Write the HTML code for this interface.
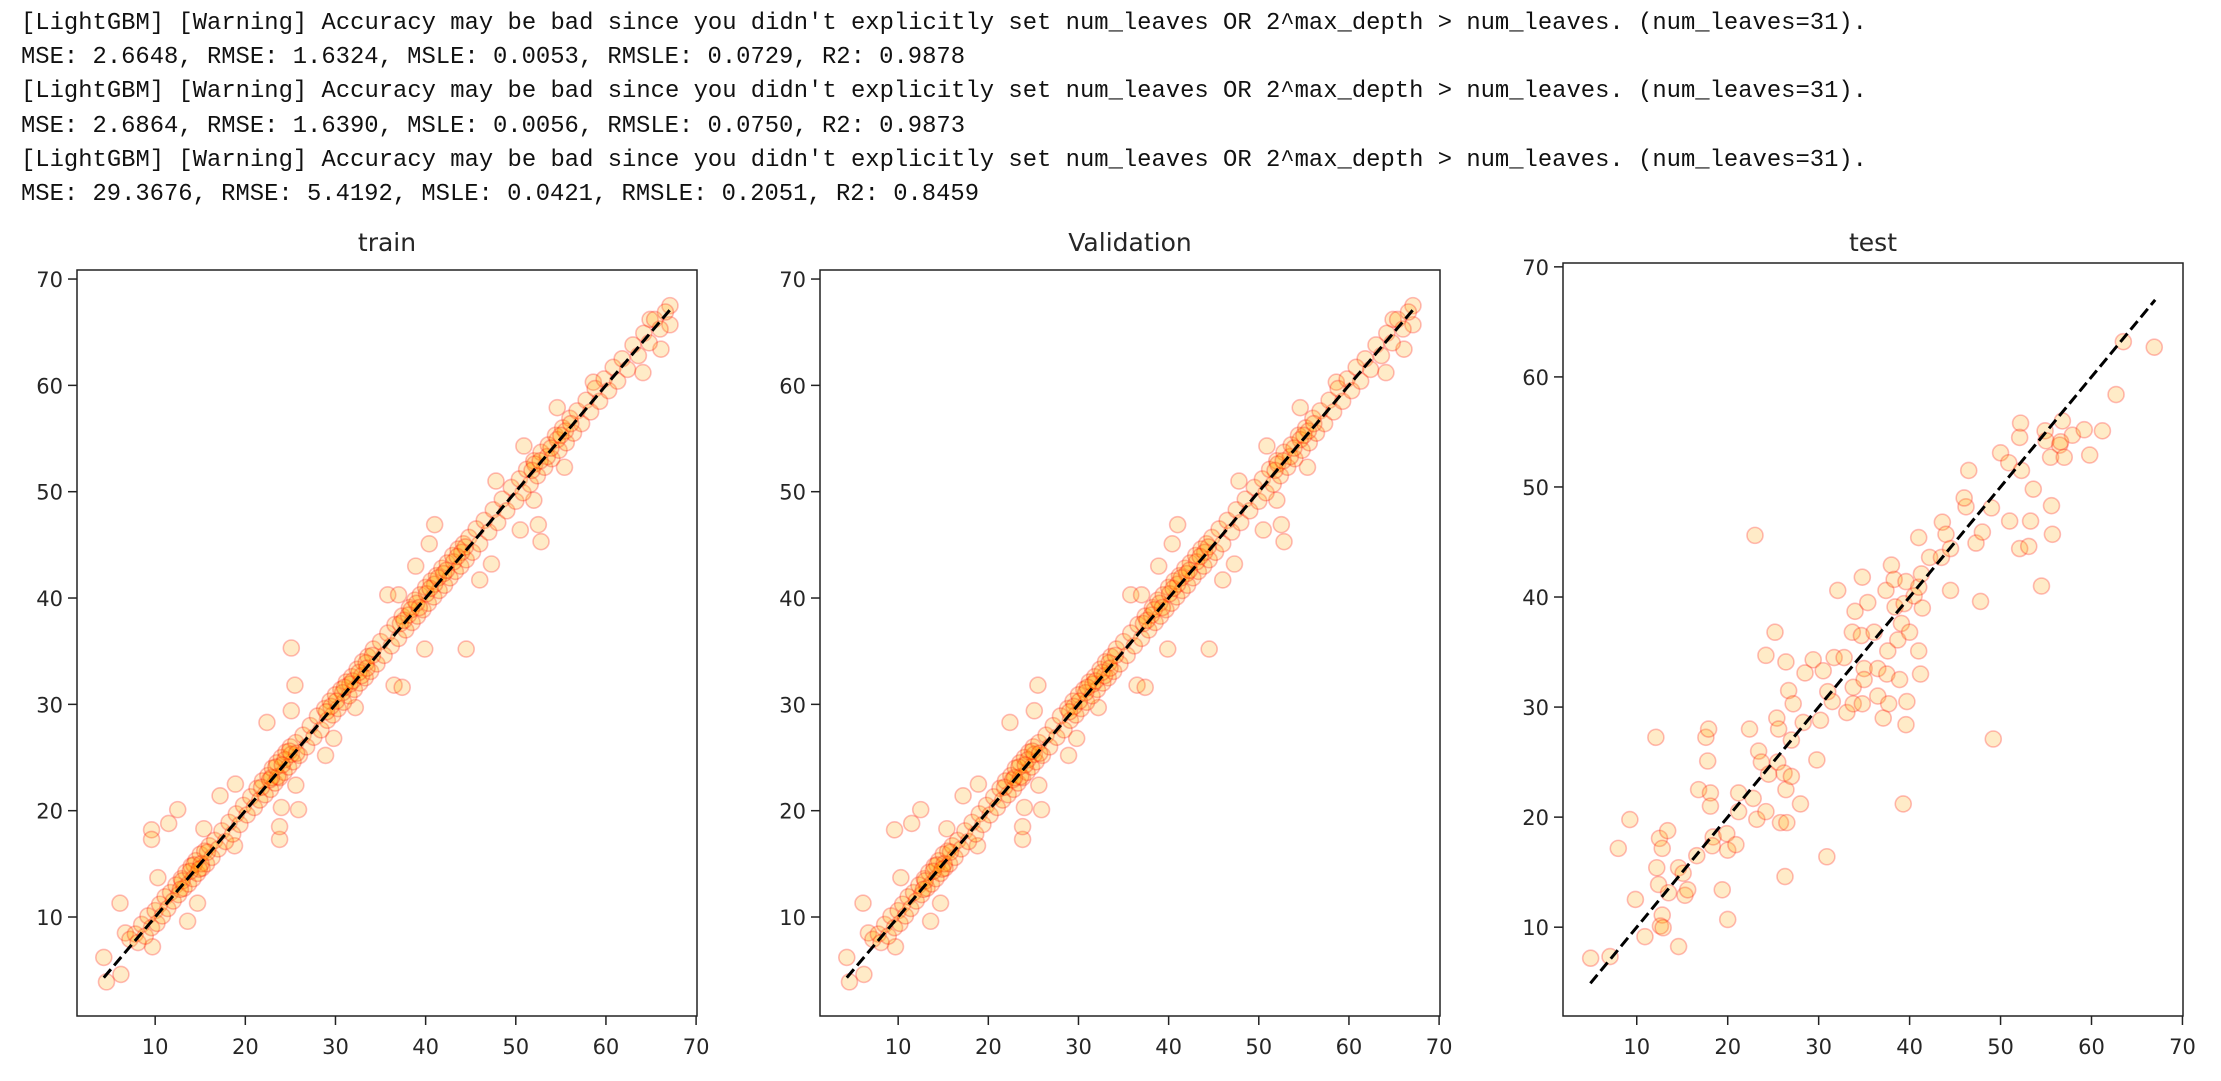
<!DOCTYPE html>
<html><head><meta charset="utf-8"><style>
html,body{margin:0;padding:0;background:#fff;}
svg{display:block;}
.log{font-family:"Liberation Mono",monospace;font-size:24px;fill:#111;}
.tick{font-family:"DejaVu Sans","Liberation Sans",sans-serif;font-size:21px;fill:#262626;}
.title{font-family:"DejaVu Sans","Liberation Sans",sans-serif;font-size:25px;fill:#262626;}
</style></head>
<body>
<svg id="fig" width="2221" height="1081" viewBox="0 0 2221 1081" xmlns="http://www.w3.org/2000/svg">
<g>
<text class="log" x="21" y="29" textLength="1846" lengthAdjust="spacingAndGlyphs">[LightGBM] [Warning] Accuracy may be bad since you didn't explicitly set num_leaves OR 2^max_depth &gt; num_leaves. (num_leaves=31).</text>
<text class="log" x="21" y="63" textLength="944" lengthAdjust="spacingAndGlyphs">MSE: 2.6648, RMSE: 1.6324, MSLE: 0.0053, RMSLE: 0.0729, R2: 0.9878</text>
<text class="log" x="21" y="97" textLength="1846" lengthAdjust="spacingAndGlyphs">[LightGBM] [Warning] Accuracy may be bad since you didn't explicitly set num_leaves OR 2^max_depth &gt; num_leaves. (num_leaves=31).</text>
<text class="log" x="21" y="132" textLength="944" lengthAdjust="spacingAndGlyphs">MSE: 2.6864, RMSE: 1.6390, MSLE: 0.0056, RMSLE: 0.0750, R2: 0.9873</text>
<text class="log" x="21" y="166" textLength="1846" lengthAdjust="spacingAndGlyphs">[LightGBM] [Warning] Accuracy may be bad since you didn't explicitly set num_leaves OR 2^max_depth &gt; num_leaves. (num_leaves=31).</text>
<text class="log" x="21" y="200" textLength="958" lengthAdjust="spacingAndGlyphs">MSE: 29.3676, RMSE: 5.4192, MSLE: 0.0421, RMSLE: 0.2051, R2: 0.8459</text>
</g>
</svg>
<script>
const tickValues = [10, 20, 30, 40, 50, 60, 70];
const panelTitles = ["train", "Validation", "test"];
const trainLine = [4.3, 67.1];
const valLine = [4.3, 67.1];
const testLine = [4.9, 67.0];
const trainPoints = [[4.3,6.2],[4.6,3.9],[6.2,4.6],[6.1,11.3],[6.7,8.5],[9.6,18.2],[9.6,17.3],[9.7,7.2],[10.3,13.7],[11.5,18.8],[12.5,20.1],[13.6,9.6],[14.7,11.3],[15.4,18.3],[17.2,21.4],[18.8,16.7],[18.9,22.5],[22.4,28.3],[23.8,17.3],[23.8,18.5],[24.0,20.3],[25.1,35.3],[25.5,31.8],[25.1,29.4],[25.9,20.1],[25.6,22.4],[28.9,25.2],[29.8,26.8],[32.2,29.7],[35.8,40.3],[37.0,40.3],[36.5,31.8],[37.4,31.6],[38.9,43.0],[39.9,35.2],[44.5,35.2],[40.4,45.1],[41.0,46.9],[46.0,41.7],[47.3,43.2],[47.8,51.0],[50.5,46.4],[50.9,54.3],[52.8,45.3],[52.5,46.9],[52.0,49.2],[55.4,52.3],[54.6,57.9],[58.6,60.3],[64.1,61.2],[66.1,63.4],[64.9,66.2],[67.1,67.5],[67.1,65.7],
[7.2,7.9],[7.8,8.4],[8.1,7.6],[8.5,9.3],[8.9,8.2],[9.2,10.1],[9.6,9.0],[10.0,10.6],[10.2,9.4],[10.5,11.2],[10.8,10.1],[11.1,11.9],[11.4,10.8],[11.7,12.3],[12.0,11.5],[12.3,13.0],[12.6,12.1],[12.9,13.6],[13.2,12.7],[13.4,14.2],[13.7,13.1],[14.0,14.8],[14.2,13.6],[14.5,15.3],[14.7,14.1],[15.0,15.9],[15.2,14.6],[15.5,16.2],[15.7,15.0],[16.0,16.7],[16.3,15.6],[16.6,17.2],[17.0,16.4],[17.4,18.1],[17.8,17.1],[18.2,18.9],[18.6,17.8],[19.0,19.7],[19.4,18.7],[19.8,20.5],[20.2,19.6],[20.6,21.3],[21.0,20.3],[21.3,22.1],[21.6,21.0],[21.9,22.8],[22.2,21.5],[22.5,23.3],[22.8,22.0],[23.0,24.0],[23.3,22.6],[23.5,24.5],[23.8,23.1],[24.0,25.0],[24.3,23.6],[24.5,25.5],[24.8,24.1],[25.0,26.0],[25.3,24.6],[25.6,26.4],[26.0,25.2],[26.4,27.1],[26.8,26.0],[27.2,28.0],[27.6,26.9],[28.0,28.9],[28.4,27.6],[28.8,29.6],[29.1,28.5],[29.4,30.3],[29.7,29.0],[30.0,30.9],[30.3,29.6],[30.6,31.4],[30.9,30.2],[31.2,32.1],[31.5,30.8],[31.8,32.6],[32.1,31.4],[32.4,33.3],[32.7,32.0],[33.0,34.0],[33.3,32.5],[33.6,34.5],[33.9,33.1],[34.2,35.2],[34.6,33.8],[35.0,35.9],[35.4,34.6],[35.8,36.7],[36.2,35.5],[36.6,37.5],[37.0,36.2],[37.4,38.3],[37.8,37.0],[38.2,39.1],[38.5,37.7],[38.8,39.8],[39.1,38.3],[39.4,40.3],[39.7,38.9],[40.0,41.0],[40.3,39.5],[40.6,41.6],[40.9,40.1],[41.2,42.1],[41.5,40.7],[41.8,42.8],[42.1,41.2],[42.4,43.3],[42.7,41.9],[43.0,44.0],[43.3,42.5],[43.6,44.6],[43.9,43.0],[44.2,45.1],[44.5,43.6],[44.8,45.7],[45.2,44.3],[45.6,46.5],[46.0,45.1],[46.5,47.3],[47.0,46.2],[47.5,48.3],[48.0,47.1],[48.5,49.3],[49.0,48.2],[49.5,50.4],[50.0,49.1],[50.4,51.2],[50.8,49.9],[51.2,52.1],[51.6,50.7],[52.0,52.9],[52.4,51.5],[52.8,53.7],[53.2,52.3],[53.6,54.4],[54.0,53.1],[54.4,55.3],[54.8,53.9],[55.2,56.0],[55.6,54.6],[56.0,56.9],[56.4,55.5],[56.8,57.6],[57.3,56.4],[57.8,58.6],[58.3,57.5],[58.8,59.7],[59.3,58.5],[59.8,60.6],[60.3,59.5],[60.8,61.7],[61.3,60.4],[61.8,62.5],[62.4,61.5],[63.0,63.8],[63.6,62.8],[64.2,64.9],[64.8,64.0],[65.4,66.2],[66.0,65.3],[66.6,66.9],
[13.0,13.4],[14.3,14.9],[15.1,15.0],[22.7,22.9],[23.6,23.2],[24.4,24.8],[25.1,25.3],[29.5,29.8],[30.8,31.1],[31.6,31.9],[32.9,32.7],[33.4,33.9],[37.2,37.6],[38.1,38.4],[39.0,39.5],[40.1,40.4],[41.0,41.3],[42.0,42.3],[43.1,43.4],[44.0,44.3],[52.1,52.6],[53.5,53.3],[54.6,54.9],[55.5,55.7],
[12.8,12.6],[13.9,14.3],[14.9,14.5],[15.8,16.1],[21.8,22.2],[22.9,23.1],[23.4,24.1],[24.1,24.3],[24.9,25.6],[25.7,25.4],[29.0,29.3],[30.1,30.3],[31.0,31.6],[31.9,32.2],[32.6,33.0],[33.5,33.4],[34.1,34.6],[37.6,37.9],[38.4,38.9],[39.3,39.1],[40.5,40.9],[41.4,41.9],[42.3,42.6],[43.5,43.9],[44.4,44.8],[51.8,52.0],[52.7,52.9],[53.9,54.1],[55.0,55.3],[56.1,56.4]];
const valPoints = [[4.3,6.2],[4.6,3.9],[6.2,4.6],[6.1,11.3],[6.7,8.5],[9.6,18.2],[9.7,7.2],[10.3,13.7],[11.5,18.8],[12.5,20.1],[13.6,9.6],[14.7,11.3],[15.4,18.3],[17.2,21.4],[18.8,16.7],[18.9,22.5],[22.4,28.3],[23.8,17.3],[23.8,18.5],[24.0,20.3],[25.5,31.8],[25.1,29.4],[25.9,20.1],[25.6,22.4],[28.9,25.2],[29.8,26.8],[32.2,29.7],[35.8,40.3],[37.0,40.3],[36.5,31.8],[37.4,31.6],[38.9,43.0],[39.9,35.2],[44.5,35.2],[40.4,45.1],[41.0,46.9],[46.0,41.7],[47.3,43.2],[47.8,51.0],[50.5,46.4],[50.9,54.3],[52.8,45.3],[52.5,46.9],[52.0,49.2],[55.4,52.3],[54.6,57.9],[58.6,60.3],[64.1,61.2],[66.1,63.4],[64.9,66.2],[67.1,67.5],[67.1,65.7],
[7.2,7.9],[7.8,8.4],[8.1,7.6],[8.5,9.3],[8.9,8.2],[9.2,10.1],[9.6,9.0],[10.0,10.6],[10.2,9.4],[10.5,11.2],[10.8,10.1],[11.1,11.9],[11.4,10.8],[11.7,12.3],[12.0,11.5],[12.3,13.0],[12.6,12.1],[12.9,13.6],[13.2,12.7],[13.4,14.2],[13.7,13.1],[14.0,14.8],[14.2,13.6],[14.5,15.3],[14.7,14.1],[15.0,15.9],[15.2,14.6],[15.5,16.2],[15.7,15.0],[16.0,16.7],[16.3,15.6],[16.6,17.2],[17.0,16.4],[17.4,18.1],[17.8,17.1],[18.2,18.9],[18.6,17.8],[19.0,19.7],[19.4,18.7],[19.8,20.5],[20.2,19.6],[20.6,21.3],[21.0,20.3],[21.3,22.1],[21.6,21.0],[21.9,22.8],[22.2,21.5],[22.5,23.3],[22.8,22.0],[23.0,24.0],[23.3,22.6],[23.5,24.5],[23.8,23.1],[24.0,25.0],[24.3,23.6],[24.5,25.5],[24.8,24.1],[25.0,26.0],[25.3,24.6],[25.6,26.4],[26.0,25.2],[26.4,27.1],[26.8,26.0],[27.2,28.0],[27.6,26.9],[28.0,28.9],[28.4,27.6],[28.8,29.6],[29.1,28.5],[29.4,30.3],[29.7,29.0],[30.0,30.9],[30.3,29.6],[30.6,31.4],[30.9,30.2],[31.2,32.1],[31.5,30.8],[31.8,32.6],[32.1,31.4],[32.4,33.3],[32.7,32.0],[33.0,34.0],[33.3,32.5],[33.6,34.5],[33.9,33.1],[34.2,35.2],[34.6,33.8],[35.0,35.9],[35.4,34.6],[35.8,36.7],[36.2,35.5],[36.6,37.5],[37.0,36.2],[37.4,38.3],[37.8,37.0],[38.2,39.1],[38.5,37.7],[38.8,39.8],[39.1,38.3],[39.4,40.3],[39.7,38.9],[40.0,41.0],[40.3,39.5],[40.6,41.6],[40.9,40.1],[41.2,42.1],[41.5,40.7],[41.8,42.8],[42.1,41.2],[42.4,43.3],[42.7,41.9],[43.0,44.0],[43.3,42.5],[43.6,44.6],[43.9,43.0],[44.2,45.1],[44.5,43.6],[44.8,45.7],[45.2,44.3],[45.6,46.5],[46.0,45.1],[46.5,47.3],[47.0,46.2],[47.5,48.3],[48.0,47.1],[48.5,49.3],[49.0,48.2],[49.5,50.4],[50.0,49.1],[50.4,51.2],[50.8,49.9],[51.2,52.1],[51.6,50.7],[52.0,52.9],[52.4,51.5],[52.8,53.7],[53.2,52.3],[53.6,54.4],[54.0,53.1],[54.4,55.3],[54.8,53.9],[55.2,56.0],[55.6,54.6],[56.0,56.9],[56.4,55.5],[56.8,57.6],[57.3,56.4],[57.8,58.6],[58.3,57.5],[58.8,59.7],[59.3,58.5],[59.8,60.6],[60.3,59.5],[60.8,61.7],[61.3,60.4],[61.8,62.5],[62.4,61.5],[63.0,63.8],[63.6,62.8],[64.2,64.9],[64.8,64.0],[65.4,66.2],[66.0,65.3],[66.6,66.9],
[13.0,13.4],[14.3,14.9],[15.1,15.0],[22.7,22.9],[23.6,23.2],[24.4,24.8],[25.1,25.3],[29.5,29.8],[30.8,31.1],[31.6,31.9],[32.9,32.7],[33.4,33.9],[37.2,37.6],[38.1,38.4],[39.0,39.5],[40.1,40.4],[41.0,41.3],[42.0,42.3],[43.1,43.4],[44.0,44.3],[52.1,52.6],[53.5,53.3],[54.6,54.9],[55.5,55.7],
[12.8,12.6],[13.9,14.3],[14.9,14.5],[15.8,16.1],[21.8,22.2],[22.9,23.1],[23.4,24.1],[24.1,24.3],[24.9,25.6],[25.7,25.4],[29.0,29.3],[30.1,30.3],[31.0,31.6],[31.9,32.2],[32.6,33.0],[33.5,33.4],[34.1,34.6],[37.6,37.9],[38.4,38.9],[39.3,39.1],[40.5,40.9],[41.4,41.9],[42.3,42.6],[43.5,43.9],[44.4,44.8],[51.8,52.0],[52.7,52.9],[53.9,54.1],[55.0,55.3],[56.1,56.4]];
const testPoints = [[4.93,7.18],[7.06,7.33],[7.97,17.16],[9.24,19.78],[9.85,12.52],[10.9,9.14],[12.1,27.25],[12.2,15.4],[12.5,18.07],[12.8,17.16],[13.4,18.77],[12.4,13.88],[13.5,13.13],[12.8,11.1],[12.6,10.1],[12.9,9.95],[14.6,8.24],[14.6,15.4],[15.1,14.9],[15.3,12.9],[15.6,13.4],[16.6,16.5],[16.8,22.5],[17.6,27.25],[17.9,28.0],[17.8,25.1],[18.1,22.2],[18.1,21.0],[18.4,18.2],[18.3,17.4],[19.9,18.5],[19.4,13.4],[20.0,10.7],[20.0,17.0],[20.9,17.5],[21.2,22.2],[21.2,20.5],[22.4,28.0],[23.0,45.6],[22.8,21.7],[23.2,19.8],[23.4,26.0],[23.7,25.0],[24.2,20.5],[24.2,34.7],[24.5,23.9],[25.2,36.8],[25.4,29.0],[25.6,28.0],[25.5,25.0],[25.8,19.5],[26.4,34.1],[26.2,24.0],[26.4,22.5],[26.5,19.5],[26.3,14.6],[26.7,31.5],[27.0,27.0],[27.0,23.7],[27.2,30.3],[28.0,21.2],[28.3,28.6],[28.5,33.1],[29.4,34.3],[29.8,25.2],[30.2,28.8],[30.5,33.3],[30.9,16.4],[31.0,31.4],[31.5,30.5],[31.7,34.5],[32.1,40.6],[32.8,34.5],[33.1,29.5],[33.8,30.3],[34.0,38.7],[33.7,36.8],[33.8,31.8],[34.8,41.8],[35.4,39.5],[34.7,36.5],[35.0,33.5],[35.0,32.5],[34.8,30.3],[36.5,33.5],[36.5,31.0],[36.1,36.8],[37.1,29.0],[37.4,40.6],[37.6,35.1],[37.5,33.0],[37.7,30.3],[38.0,42.9],[38.4,39.1],[38.3,41.6],[38.7,36.1],[38.9,32.5],[39.1,37.6],[39.4,39.4],[39.6,41.4],[39.7,30.5],[39.6,28.4],[39.3,21.2],[40.0,36.8],[40.5,40.1],[41.0,40.9],[41.0,45.4],[41.0,35.1],[41.2,33.0],[41.4,39.0],[41.3,42.1],[42.2,43.6],[43.5,43.6],[43.6,46.8],[44.0,45.7],[44.5,44.4],[44.5,40.6],[46.2,48.2],[46.5,51.5],[46.0,49.0],[47.3,44.9],[47.8,39.6],[48.0,45.9],[49.0,48.1],[49.2,27.1],[50.0,53.1],[50.9,52.2],[51.0,46.9],[52.2,55.8],[52.1,54.5],[52.3,51.5],[52.1,44.4],[53.1,44.6],[53.3,46.9],[53.6,49.8],[54.5,41.0],[54.9,55.1],[55.0,54.2],[55.5,52.7],[55.6,48.3],[55.7,45.7],[56.5,53.8],[56.8,56.0],[57.0,52.7],[57.9,54.7],[59.2,55.2],[59.8,52.9],[61.2,55.1],[62.7,58.4],[63.5,63.2],[66.9,62.7],[56.6,54.1]];
const trainXLim = [1.33, 70.1];
const trainYLim = [0.69, 70.85];
const valXLim = [1.33, 70.1];
const valYLim = [0.69, 70.85];
const testXLim = [1.89, 70.06];
const testYLim = [1.93, 70.35];

const NS = "http://www.w3.org/2000/svg";
const fig = document.getElementById("fig");
function mk(tag, attrs, parent) {
  const e = document.createElementNS(NS, tag);
  for (const k in attrs) e.setAttribute(k, attrs[k]);
  parent.appendChild(e);
  return e;
}
function drawPanel(idx, left, top, w, h, xlim, ylim, points, line, key) {
  const g = mk("g", {}, fig);
  
  
  const sx = v => left + (v - xlim[0]) / (xlim[1] - xlim[0]) * w;
  const sy = v => top + h - (v - ylim[0]) / (ylim[1] - ylim[0]) * h;
  const t = mk("text", {x: left + w / 2, y: 251, "text-anchor": "middle", class: "title"}, g);
  t.textContent = panelTitles[idx];
  
  
  const pts = mk("g", {}, g);
  
  
  points.forEach(p => {
    const c = mk("circle", {cx: sx(p[0]), cy: sy(p[1]), r: 8, fill: "rgba(255,165,0,0.22)", stroke: "rgba(255,0,0,0.26)", "stroke-width": 1.6}, pts);
    
    
  });
  const ln = mk("line", {x1: sx(line[0]), y1: sy(line[0]), x2: sx(line[1]), y2: sy(line[1]), stroke: "#000", "stroke-width": 3, "stroke-dasharray": "11,5"}, g);
  
  
  const fr = mk("rect", {x: left, y: top, width: w, height: h, fill: "none", stroke: "#222", "stroke-width": 1.5}, g);
  
  
  tickValues.forEach(v => {
    const x = sx(v);
    const xt = mk("line", {x1: x, y1: top + h, x2: x, y2: top + h + 9, stroke: "#222", "stroke-width": 1.5}, g);
    
    
    const xl = mk("text", {x: x, y: top + h + 38, "text-anchor": "middle", class: "tick"}, g);
    xl.textContent = v;
    
    
    const y = sy(v);
    const yt = mk("line", {x1: left - 9, y1: y, x2: left, y2: y, stroke: "#222", "stroke-width": 1.5}, g);
    
    
    const yl = mk("text", {x: left - 14, y: y + 8, "text-anchor": "end", class: "tick"}, g);
    yl.textContent = v;
    
    
  });
}
drawPanel(0, 77, 270, 620, 746, trainXLim, trainYLim, trainPoints, trainLine, "train");
drawPanel(1, 820, 270, 620, 746, valXLim, valYLim, valPoints, valLine, "validation");
drawPanel(2, 1563, 263, 620, 753, testXLim, testYLim, testPoints, testLine, "test");
</script>
</body></html>
